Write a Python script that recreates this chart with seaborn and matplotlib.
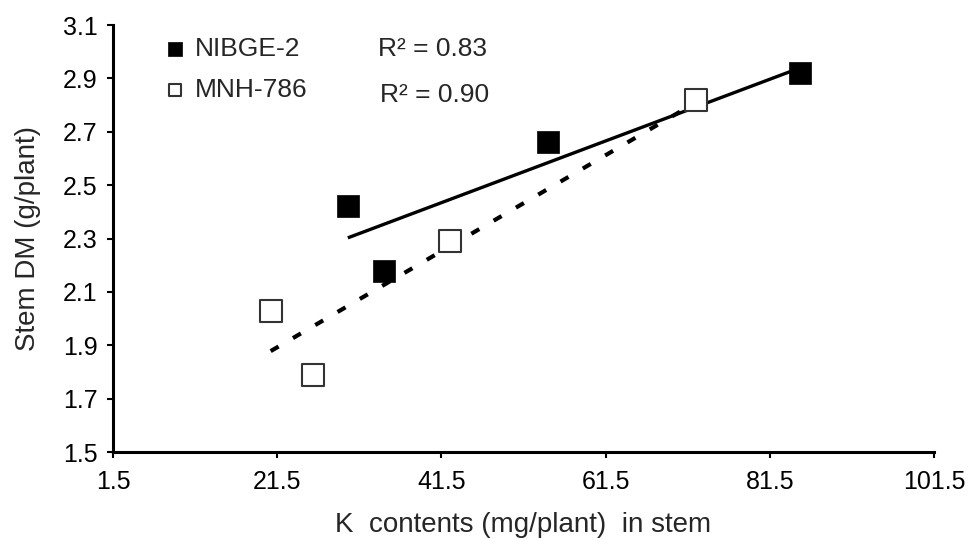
import numpy as np
import pandas as pd
import matplotlib
matplotlib.use("Agg")
import matplotlib.pyplot as plt
import seaborn as sns

# NIBGE-2 (filled squares)
nibge_k = [30.1, 34.5, 54.5, 85.2]
nibge_dm = [2.42, 2.18, 2.66, 2.92]
# MNH-786 (open squares)
mnh_k = [20.7, 25.9, 42.5, 72.5]
mnh_dm = [2.03, 1.79, 2.29, 2.82]

x_ticks = [1.5, 21.5, 41.5, 61.5, 81.5, 101.5]
y_ticks = [1.5, 1.7, 1.9, 2.1, 2.3, 2.5, 2.7, 2.9, 3.1]
r2_labels = ["R² = 0.83", "R² = 0.90"]

nibge = pd.DataFrame({'k': nibge_k, 'dm': nibge_dm})
mnh = pd.DataFrame({'k': mnh_k, 'dm': mnh_dm})

sns.set_style("ticks")
plt.rcParams['font.family'] = ['Liberation Sans', 'DejaVu Sans']

fig = plt.figure(figsize=(9.77, 5.39), dpi=100)
ax = fig.add_axes([0.1157, 0.1614, 0.956 - 0.1157, 0.9536 - 0.1614])

# trend lines
sns.regplot(data=nibge, x='k', y='dm', ci=None, scatter=False, ax=ax,
            line_kws={'color': 'black', 'lw': 2.4, 'solid_capstyle': 'butt'})
sns.regplot(data=mnh, x='k', y='dm', ci=None, scatter=False, ax=ax,
            line_kws={'color': 'black', 'lw': 3, 'linestyle': (0, (2.2, 4))})

# points
sns.scatterplot(data=nibge, x='k', y='dm', marker='s', s=250, color='black',
                edgecolor='black', linewidth=0.5, ax=ax, label='NIBGE-2', zorder=3)
sns.scatterplot(data=mnh, x='k', y='dm', marker='s', s=230, color='white',
                edgecolor='#333333', linewidth=1.5, ax=ax, label='MNH-786', zorder=3)

ax.set_xlim(1.5, 101.5)
ax.set_ylim(1.5, 3.1)
ax.set_xticks(x_ticks)
ax.set_yticks(y_ticks)
ax.set_xticklabels([f"{v}" for v in x_ticks])
ax.set_yticklabels([f"{v}" for v in y_ticks])
ax.tick_params(direction='out', length=4, width=1.5, labelsize=18, colors='black')
ax.tick_params(axis='x', pad=9)
ax.tick_params(axis='y', pad=7)

sns.despine(ax=ax)
for s in ['left', 'bottom']:
    ax.spines[s].set_linewidth(2.2)
    ax.spines[s].set_color('black')

ax.set_xlabel("K  contents (mg/plant)  in stem", fontsize=20, labelpad=13)
ax.set_ylabel("Stem DM (g/plant)", fontsize=20, labelpad=16)

ax.legend(loc='upper left', bbox_to_anchor=(0.166, 0.932), bbox_transform=fig.transFigure,
          frameon=False, fontsize=19, markerscale=0.6, handlelength=1.0,
          handletextpad=0.25, labelspacing=0.65, borderpad=0, borderaxespad=0)

ax.text(378 / 977, 1 - 49 / 539, r2_labels[0], transform=fig.transFigure,
        fontsize=19, va='center')
ax.text(380 / 977, 1 - 95 / 539, r2_labels[1], transform=fig.transFigure,
        fontsize=19, va='center')

plt.savefig("out.png", dpi=100)
